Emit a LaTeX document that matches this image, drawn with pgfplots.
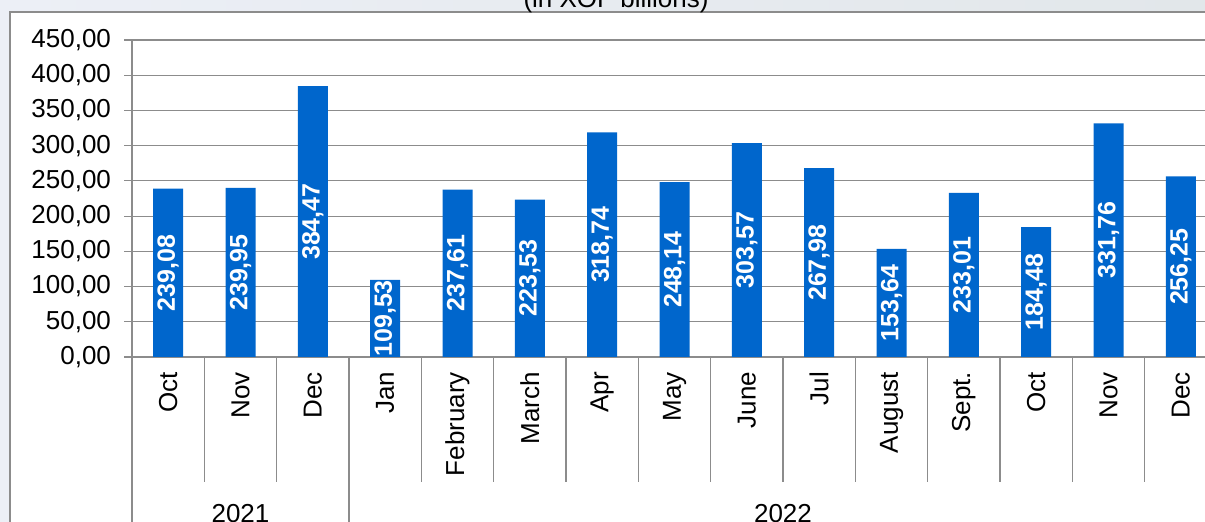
\documentclass[border=0pt]{standalone}
\usepackage{fontspec}
\setmainfont{Liberation Sans}
\usepackage{pgfplots}
\pgfplotsset{compat=1.18}
\definecolor{barBlue}{HTML}{0066CC}
\definecolor{gridGray}{HTML}{8C8C8C}
\definecolor{bgLeft}{HTML}{ECEFF6}
\definecolor{bgRight}{HTML}{E2E7EA}

\pgfplotstableread{
idx value
0  239.08
1  239.95
2  384.47
3  109.53
4  237.61
5  223.53
6  318.74
7  248.14
8  303.57
9  267.98
10 153.64
11 233.01
12 184.48
13 331.76
14 256.25
}\flowdata

\begin{document}
\begin{tikzpicture}
\clip (0,0) rectangle (602.5pt,261pt);
\shade[left color=bgLeft, right color=bgRight] (0,0) rectangle (602.5pt,261pt);
\fill[white] (5pt,-10pt) rectangle (620pt,255pt);
\draw[gridGray, line width=0.6pt] (5pt,-10pt) -- (5pt,255pt) -- (620pt,255pt);
\node[anchor=base, font=\fontsize{13}{15}\selectfont] at (308pt,257pt) {(in XOF billions)};
\begin{axis}[
    at={(66pt,82.5pt)}, anchor=south west,
    scale only axis,
    width=542.5pt, height=158.5pt,
    xmin=-0.5, xmax=14.5,
    ymin=0, ymax=450,
    ytick={0,50,...,450},
    xtick={0,...,14},
    xticklabels={Oct,Nov,Dec,Jan,February,March,Apr,May,June,Jul,August,Sept.,Oct,Nov,Dec},
    xticklabel style={rotate=90, anchor=east, font=\fontsize{13}{15}\selectfont},
    yticklabel style={font=\fontsize{13}{15}\selectfont, xshift=-3pt},
    major x tick style={draw=none},
    major y tick style={gridGray, line width=0.6pt},
    tick align=outside,
    major tick length=4pt,
    ymajorgrids,
    grid style={gridGray, line width=0.6pt},
    axis x line*=bottom, axis y line*=left,
    axis line style={gridGray, line width=0.6pt, -},
    /pgf/number format/.cd, fixed, fixed zerofill, precision=2, use comma, 1000 sep={}, assume math mode=true,
    /pgfplots/.cd,
    clip=false,
    ybar, bar width=15pt,
    visualization depends on=y \as \rawy,
    nodes near coords,
    every node near coord/.append style={
        shift={(axis direction cs:0,-\rawy/2)},
        rotate=90, anchor=center, text=white,
        font=\fontsize{12.5}{14}\bfseries\selectfont},
]
\addplot[fill=barBlue, draw=none] table[x=idx, y=value] {\flowdata};
\pgfplotsinvokeforeach{0.5,1.5,3.5,4.5,...,13.5}{
  \draw[gridGray, line width=0.6pt] (axis cs:#1,0) -- ([yshift=-62.5pt]axis cs:#1,0);
}
\draw[gridGray, line width=0.6pt] (axis cs:-0.5,0) -- ([yshift=-100pt]axis cs:-0.5,0);
\draw[gridGray, line width=0.6pt] (axis cs:2.5,0) -- ([yshift=-100pt]axis cs:2.5,0);
\node[anchor=base, font=\fontsize{13}{15}\selectfont] at ([yshift=-83pt]axis cs:1,0) {2021};
\node[anchor=base, font=\fontsize{13}{15}\selectfont] at ([yshift=-83pt]axis cs:8.5,0) {2022};
\end{axis}
\end{tikzpicture}
\end{document}
